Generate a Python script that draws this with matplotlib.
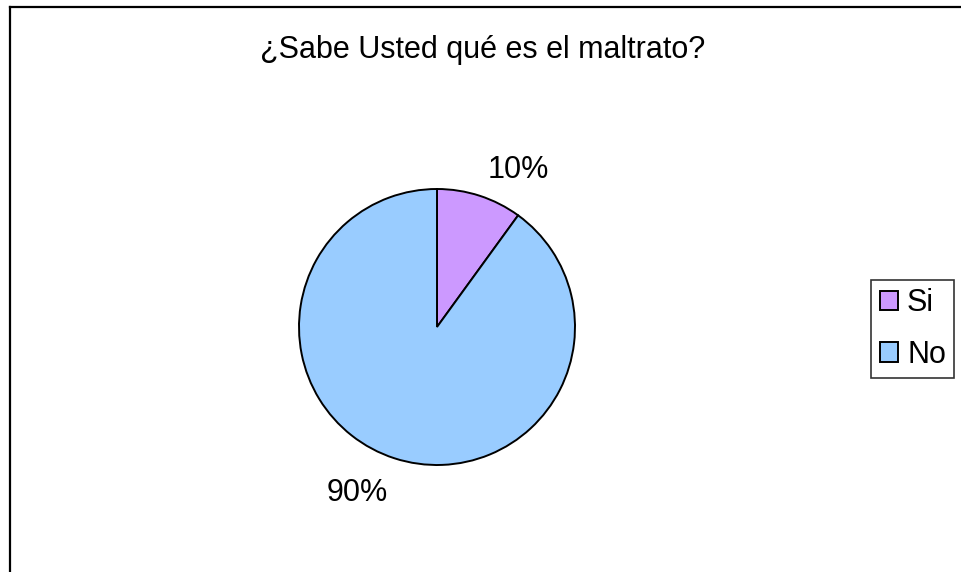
import matplotlib.pyplot as plt
from matplotlib.lines import Line2D

plt.rcParams['font.family'] = ['Liberation Sans', 'DejaVu Sans']

labels = ['Si', 'No']
values = [10, 90]
colors = ['#CC99FF', '#99CCFF']
title = '¿Sabe Usted qué es el maltrato?'

W, H = 961, 572
fig = plt.figure(figsize=(W / 100, H / 100), dpi=100)

# outer chart frame (only left and top edges are visible in the crop)
fig.add_artist(Line2D([10 / W, 10 / W], [0, 1 - 7 / H], transform=fig.transFigure,
                      color='black', lw=1.6))
fig.add_artist(Line2D([10 / W, 1], [1 - 7 / H, 1 - 7 / H], transform=fig.transFigure,
                      color='black', lw=1.6))

cx, cy, r = 437, 327, 138
ax = fig.add_axes([(cx - r) / W, (H - cy - r) / H, 2 * r / W, 2 * r / H])
wedges, _, autotexts = ax.pie(values, colors=colors, startangle=90, counterclock=False,
                              autopct='%1.0f%%', pctdistance=1.34,
                              wedgeprops=dict(edgecolor='black', linewidth=1.4),
                              textprops=dict(fontsize=22))
autotexts[0].set_position((0.59, 1.14))
autotexts[1].set_position((-0.58, -1.2))
ax.set_xlim(-1, 1)
ax.set_ylim(-1, 1)
ax.set_aspect('equal')

fig.text(483 / W, 1 - 50 / H, title, ha='center', va='center', fontsize=22)

leg = fig.legend(wedges, labels, loc='center left', bbox_to_anchor=(871 / W, 1 - 329 / H),
                 fontsize=22, frameon=True, fancybox=False, edgecolor='black',
                 handlelength=0.6, handleheight=0.6, handletextpad=0.3,
                 borderpad=0.28, labelspacing=0.7, borderaxespad=0)
leg.get_frame().set_linewidth(1.2)

fig.savefig('out.png', dpi=100)
